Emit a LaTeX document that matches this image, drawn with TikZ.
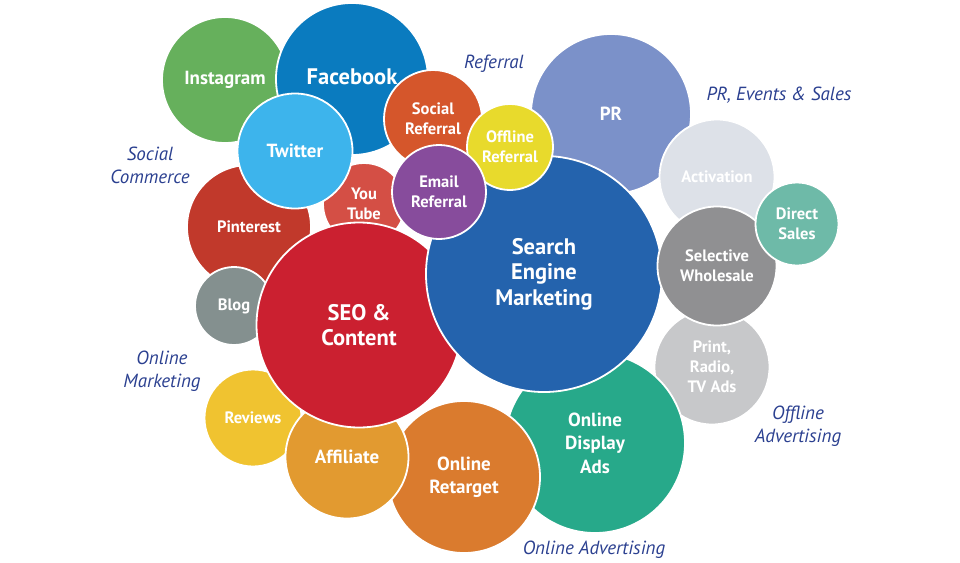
\documentclass[tikz,border=0pt]{standalone}
\usepackage{fontspec}
\setmainfont{PT Sans}
\definecolor{instagreen}{HTML}{66B05C}
\definecolor{fbblue}{HTML}{0A7BBF}
\definecolor{twitblue}{HTML}{3DB4EC}
\definecolor{pinred}{HTML}{C1392B}
\definecolor{tubered}{HTML}{D44F45}
\definecolor{socorange}{HTML}{D5562B}
\definecolor{offyellow}{HTML}{E8DA2C}
\definecolor{mailpurple}{HTML}{874C9C}
\definecolor{prblue}{HTML}{7B91C9}
\definecolor{semblue}{HTML}{2463AD}
\definecolor{actgrey}{HTML}{DDE1E8}
\definecolor{salesteal}{HTML}{6EBAA8}
\definecolor{wholegrey}{HTML}{909092}
\definecolor{printgrey}{HTML}{C7C8CA}
\definecolor{bloggrey}{HTML}{84908F}
\definecolor{seored}{HTML}{CB2030}
\definecolor{revyellow}{HTML}{F0C330}
\definecolor{affamber}{HTML}{E29A30}
\definecolor{retorange}{HTML}{DA7B2E}
\definecolor{adsgreen}{HTML}{27A98A}
\definecolor{groupblue}{HTML}{2B4090}

\begin{document}
\begin{tikzpicture}[x=1pt, y=-1pt,
  bubble/.style={circle, draw=white, line width=1.8pt, inner sep=0pt, minimum size=#1,
    text=white, align=center},
  txtS/.style={font=\bfseries\fontsize{16.5}{20}\selectfont},
  txtM/.style={font=\bfseries\fontsize{19}{23.5}\selectfont},
  txtL/.style={font=\bfseries\fontsize{22.5}{25.5}\selectfont},
  group/.style={font=\itshape\fontsize{19}{23}\selectfont, text=groupblue, align=center}
]
\useasboundingbox (0,0) rectangle (960,562);

% social commerce
\node[bubble=126pt, fill=instagreen, txtM] (insta) at (225,80) {Instagram};
\node[bubble=152pt, fill=fbblue, txtL]     (fb)    at (352,79) {\raisebox{5pt}{Facebook}};
\node[bubble=124pt, fill=pinred, txtS]     (pin)   at (249,227) {Pinterest};
\node[bubble=82pt, fill=tubered, txtS]     (tube)  at (364,204) {You\\Tube};
\node[bubble=115pt, fill=twitblue, txtM]   (twit)  at (295,151) {Twitter};

% referral
\node[bubble=98pt, fill=socorange, txtS]   (socref) at (433,119) {Social\\Referral};

% PR, events & sales
\node[bubble=160pt, fill=prblue, txtM]     (pr)    at (611,114) {PR};
\node[bubble=115pt, fill=actgrey, txtS]    (act)   at (717,177) {Activation};

% offline advertising
\node[bubble=115pt, fill=printgrey, txtS]  (print) at (712,367) {Print,\\Radio,\\TV Ads};

% online advertising
\node[bubble=180pt, fill=adsgreen, txtM]   (disp)  at (595,443) {Online\\Display\\Ads};
\node[bubble=152pt, fill=retorange, txtM]  (retar) at (464,477) {Online\\Retarget};

% online marketing
\node[bubble=97pt, fill=revyellow, txtS]   (rev)   at (253,418) {Reviews};
\node[bubble=78pt, fill=bloggrey, txtS]    (blog)  at (234,306) {Blog};
\node[bubble=123pt, fill=affamber, txtM]   (aff)   at (347,457) {Affiliate};
\node[bubble=205pt, fill=seored, txtL]     (seo)   at (359,325) {SEO \&\\Content};
\node[bubble=236pt, fill=semblue, txtL]    (sem)   at (544,274) {Search\\Engine\\Marketing};

% referral on top
\node[bubble=86pt, fill=offyellow, txtS]   (offref) at (510,147) {Offline\\Referral};
\node[bubble=94pt, fill=mailpurple, txtS]  (mailref) at (439,192) {Email\\Referral};

% sales
\node[bubble=119pt, fill=wholegrey, txtS]  (whole) at (717,266) {Selective\\Wholesale};
\node[bubble=83pt, fill=salesteal, txtS]   (direct) at (797,224) {Direct\\Sales};

% group labels
\node[group] (gref)    at (494,64)  {Referral};
\node[group] (gpr)     at (779,95)  {PR, Events \& Sales};
\node[group] (gsocial) at (150,165) {Social\\Commerce};
\node[group] (gonline) at (162,371) {Online\\Marketing};
\node[group] (goffads) at (798,426) {Offline\\Advertising};
\node[group] (gonads)  at (594,550) {Online Advertising};
\end{tikzpicture}
\end{document}
